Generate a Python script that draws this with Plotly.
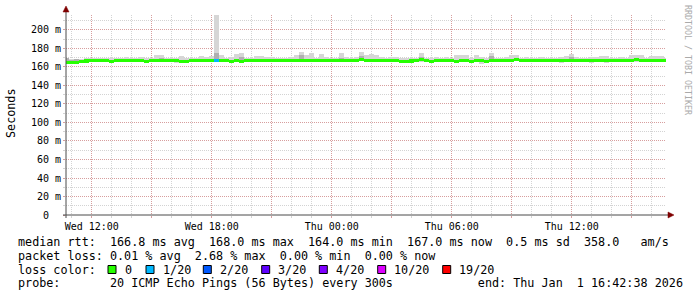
import plotly.graph_objects as go
import pandas as pd

# ---------------- data ----------------
times = pd.date_range("2025-12-31 10:45", periods=121, freq="15min")

median_ms = [
    164.8, 164.6, 164.9, 165.7, 166.5, 166.9, 166.8, 167.0, 166.9, 166.3,
    166.9, 167.0, 166.8, 166.9, 167.0, 166.8, 166.1, 166.9, 167.0, 166.8,
    166.9, 167.0, 166.8, 166.3, 166.4, 167.5, 166.8, 167.0, 166.9, 166.8,
    166.9, 166.8, 167.0, 166.1, 166.6, 166.4, 166.9, 167.0, 166.8, 166.9,
    167.5, 167.4, 166.9, 167.0, 166.8, 166.9, 167.0, 166.8, 166.9, 167.0,
    166.8, 166.9, 167.0, 166.9, 166.8, 167.0, 166.9, 166.8, 167.1, 167.6,
    166.9, 166.8, 167.0, 166.9, 166.8, 167.0, 166.9, 166.4, 166.0, 166.5,
    166.9, 167.6, 166.8, 166.2, 166.9, 167.0, 166.8, 166.9, 166.3, 166.9,
    167.0, 166.2, 166.8, 167.0, 166.4, 166.9, 167.0, 166.9, 166.8, 167.4,
    167.8, 167.3, 166.9, 166.8, 167.0, 166.9, 166.8, 167.0, 166.9, 166.8,
    167.0, 166.9, 166.8, 167.0, 166.9, 166.8, 167.0, 166.9, 166.8, 166.9,
    167.0, 166.9, 166.8, 167.0, 167.6, 166.9, 166.8, 167.5, 167.4, 166.9,
    167.0,
]

smoke_lo_ms = [
    163.8, 163.6, 163.9, 164.6, 165.5, 165.8, 165.5, 165.8, 165.6, 165.0,
    165.6, 165.8, 165.5, 165.7, 165.8, 165.5, 164.8, 165.6, 165.8, 165.5,
    165.6, 165.7, 164.8, 165.0, 165.1, 165.5, 165.4, 165.8, 165.6, 165.5,
    165.2, 165.5, 165.7, 164.0, 165.2, 164.8, 165.6, 165.7, 165.4, 165.6,
    165.7, 165.5, 165.6, 165.8, 165.5, 165.6, 165.7, 165.3, 165.5, 165.8,
    165.5, 165.6, 165.8, 165.6, 165.4, 165.7, 165.6, 165.5, 165.7, 166.0,
    165.6, 165.4, 165.7, 165.6, 165.5, 165.7, 165.6, 165.0, 164.8, 165.0,
    165.6, 165.8, 165.4, 164.9, 165.6, 165.7, 165.5, 165.6, 164.8, 165.5,
    165.7, 164.8, 165.5, 163.0, 165.0, 165.6, 165.7, 165.6, 165.5, 165.7,
    166.0, 165.8, 165.6, 165.5, 165.7, 165.6, 165.5, 165.7, 165.6, 164.0,
    165.7, 165.6, 165.5, 165.7, 165.6, 164.8, 164.9, 165.0, 164.8, 165.6,
    165.7, 165.6, 165.5, 165.7, 165.8, 165.6, 165.5, 165.7, 165.8, 165.6,
    165.7,
]

smoke_hi_ms = [
    168.8, 168.2, 168.0, 168.5, 169.5, 169.8, 170.0, 169.5, 169.8, 170.2,
    169.5, 170.0, 170.3, 169.5, 170.0, 170.5, 169.5, 170.2, 172.8, 173.2,
    169.8, 170.2, 170.0, 171.8, 170.0, 169.5, 170.2, 171.5, 171.2, 171.8,
    232.0, 173.0, 170.0, 170.5, 174.5, 174.8, 170.0, 169.8, 172.0, 172.2,
    171.0, 170.5, 170.0, 169.8, 170.2, 170.5, 173.0, 176.5, 173.2, 174.8,
    170.0, 174.0, 170.5, 169.8, 170.2, 174.8, 170.5, 170.0, 170.8, 176.5,
    172.5, 173.8, 172.8, 170.5, 170.0, 171.0, 170.8, 170.0, 169.5, 170.2,
    170.0, 174.8, 170.2, 170.0, 170.5, 169.8, 170.5, 170.0, 172.5, 173.0,
    172.8, 170.2, 173.0, 170.5, 170.0, 175.5, 170.2, 170.0, 170.5, 173.0,
    172.5, 170.0, 170.5, 169.8, 170.0, 170.5, 170.2, 170.0, 169.8, 170.5,
    171.5, 174.0, 170.5, 170.0, 170.2, 171.0, 170.5, 171.8, 171.5, 170.2,
    170.0, 170.5, 169.8, 172.5, 173.0, 172.8, 170.0, 171.5, 172.0, 171.8,
    169.5,
]

smoke_dark_ms = [
    169.3, 168.0, 168.2, 168.0, 168.2, 168.5, 168.3, 168.6, 168.5, 168.0,
    168.5, 168.6, 168.4, 168.5, 168.6, 168.4, 167.8, 168.5, 169.0, 169.2,
    168.5, 168.6, 168.4, 168.0, 168.1, 169.1, 168.4, 168.6, 168.5, 168.4,
    174.8, 169.0, 168.6, 167.8, 168.3, 171.0, 168.5, 168.6, 168.4, 168.5,
    169.1, 169.0, 168.5, 168.6, 168.4, 168.5, 168.6, 172.5, 168.5, 168.6,
    168.4, 168.5, 168.6, 168.5, 168.4, 169.5, 168.5, 168.4, 168.7, 172.0,
    168.5, 168.4, 168.6, 168.5, 168.4, 168.6, 168.5, 168.0, 167.6, 168.1,
    168.5, 171.0, 168.4, 167.8, 168.5, 168.6, 168.4, 168.5, 168.0, 168.5,
    168.6, 167.8, 168.4, 168.6, 168.0, 171.5, 168.6, 168.5, 168.4, 169.0,
    169.4, 168.9, 168.5, 168.4, 168.6, 168.5, 168.4, 168.6, 168.5, 168.4,
    168.6, 170.5, 168.4, 168.6, 168.5, 168.4, 168.6, 168.5, 168.4, 168.5,
    168.6, 168.5, 168.4, 168.6, 169.2, 168.5, 168.4, 169.1, 169.0, 168.5,
    168.6,
]

loss_count = [0] * 30 + [1] + [0] * 90

loss_levels = [0, 1, 2, 3, 4, 10, 19]
loss_labels = ["0", "1/20", "2/20", "3/20", "4/20", "10/20", "19/20"]
loss_colors = ["#26ff00", "#00b8ff", "#0059ff", "#5e00ff", "#7e00ff", "#dd00ff", "#ff0000"]

y_tick_vals = [0, 20, 40, 60, 80, 100, 120, 140, 160, 180, 200]
y_tick_text = ["0\u00a0\u00a0", "20 m", "40 m", "60 m", "80 m", "100 m",
               "120 m", "140 m", "160 m", "180 m", "200 m"]

x_tick_vals = ["2025-12-31 12:00", "2025-12-31 15:00", "2025-12-31 18:00",
               "2025-12-31 21:00", "2026-01-01 00:00", "2026-01-01 03:00",
               "2026-01-01 06:00", "2026-01-01 09:00", "2026-01-01 12:00",
               "2026-01-01 15:00"]
x_tick_text = ["Wed 12:00", "", "Wed 18:00", "", "Thu 00:00", "",
               "Thu 06:00", "", "Thu 12:00", ""]

legend_rows = [
    "median rtt:  166.8 ms avg  168.0 ms max  164.0 ms min  167.0 ms now  0.5 ms sd  358.0   am/s",
    "packet loss: 0.01 % avg  2.68 % max  0.00 % min  0.00 % now",
    "loss color:",
    "probe:       20 ICMP Echo Pings (56 Bytes) every 300s            end: Thu Jan  1 16:42:38 2026",
]

x_start = "2025-12-31 10:42:38"
x_end = "2026-01-01 16:42:38"
y_max = 216.2

# ---------------- layout helpers ----------------
W, H = 697, 297
L, R, T, B = 66, 31, 15, 82
PW, PH = W - L - R, H - T - B
MONO = "DejaVu Sans Mono"
BIN_MS = 15 * 60 * 1000


def px_x(p):
    return (p - L) / PW


def px_y(p):
    return (T + PH - p) / PH


def loss_color(n):
    c = loss_colors[0]
    for lv, col in zip(loss_levels, loss_colors):
        if n >= lv:
            c = col
    return c


fig = go.Figure()

# light smoke
fig.add_trace(go.Bar(
    x=times, base=smoke_lo_ms,
    y=[h - l for h, l in zip(smoke_hi_ms, smoke_lo_ms)],
    width=BIN_MS, marker=dict(color="#d6d6d6", line=dict(width=0)),
    hoverinfo="skip", showlegend=False))
# darker smoke near the median
fig.add_trace(go.Bar(
    x=times, base=median_ms,
    y=[d - m for d, m in zip(smoke_dark_ms, median_ms)],
    width=BIN_MS, marker=dict(color="#b0b0b0", line=dict(width=0)),
    hoverinfo="skip", showlegend=False))
# median coloured by loss
fig.add_trace(go.Bar(
    x=times, base=[m - 1.65 for m in median_ms], y=[3.3] * len(median_ms),
    width=BIN_MS,
    marker=dict(color=[loss_color(n) for n in loss_count], line=dict(width=0)),
    hoverinfo="skip", showlegend=False))

grid_minor = "rgba(150,150,150,0.42)"
grid_major = "rgba(222,80,80,0.40)"

fig.update_layout(
    width=W, height=H,
    margin=dict(l=L, r=R, t=T, b=B, pad=0),
    paper_bgcolor="white", plot_bgcolor="white",
    barmode="overlay", bargap=0,
    font=dict(family=MONO, size=10, color="black"),
    xaxis=dict(
        type="date", range=[x_start, x_end],
        tickmode="array", tickvals=x_tick_vals, ticktext=x_tick_text,
        showgrid=True, gridcolor=grid_major, griddash="1px,1px", gridwidth=1,
        ticks="outside", ticklen=2, tickcolor=grid_major,
        minor=dict(dtick=3600000, tick0="2025-12-31 00:00", showgrid=True,
                   gridcolor=grid_minor, griddash="1px,1px", ticks="outside",
                   ticklen=2, tickcolor=grid_minor),
        showline=False, zeroline=False,
        tickfont=dict(family=MONO, size=10, color="black"),
        fixedrange=True,
    ),
    yaxis=dict(
        range=[0, y_max],
        tickmode="array", tickvals=y_tick_vals, ticktext=y_tick_text,
        showgrid=True, gridcolor=grid_major, griddash="1px,1px", gridwidth=1,
        ticks="outside", ticklen=2, tickcolor=grid_major,
        minor=dict(dtick=10, tick0=0, showgrid=True, gridcolor=grid_minor,
                   griddash="1px,1px", ticks="outside", ticklen=2,
                   tickcolor=grid_minor),
        showline=False, zeroline=False,
        tickfont=dict(family=MONO, size=10, color="black"),
        fixedrange=True,
    ),
)

axis_col = "#4a4a4a"
arrow_col = "#7f0000"
shapes = [
    # y axis line (extends above plot, like rrdtool)
    dict(type="line", xref="paper", yref="paper",
         x0=px_x(L), x1=px_x(L), y0=px_y(T + PH + 3), y1=px_y(10),
         line=dict(color=axis_col, width=1)),
    # x axis line
    dict(type="line", xref="paper", yref="paper",
         x0=px_x(L - 3), x1=px_x(L + PW + 4), y0=0, y1=0,
         line=dict(color=axis_col, width=1)),
    # arrows
    dict(type="path", xref="paper", yref="paper",
         path=f"M {px_x(L-3)},{px_y(12)} L {px_x(L+3)},{px_y(12)} L {px_x(L)},{px_y(6)} Z",
         fillcolor=arrow_col, line=dict(color=arrow_col, width=0.5)),
    dict(type="path", xref="paper", yref="paper",
         path=f"M {px_x(L+PW+2)},{px_y(T+PH-3)} L {px_x(L+PW+2)},{px_y(T+PH+3)} L {px_x(L+PW+8)},{px_y(T+PH)} Z",
         fillcolor=arrow_col, line=dict(color=arrow_col, width=0.5)),
]

annotations = []
row_y = [241.7, 255.7, 269.5, 283.3]
for txt, yy in zip(legend_rows, row_y):
    annotations.append(dict(
        text=txt.replace(" ", "\u00a0"), xref="paper", yref="paper",
        x=px_x(16), y=px_y(yy), xanchor="left", yanchor="middle",
        showarrow=False, font=dict(family=MONO, size=11.75, color="black")))

sq_left = [108, 146, 203.3, 261.7, 319.3, 377.7, 442.7]
for lab, col, sx in zip(loss_labels, loss_colors, sq_left):
    shapes.append(dict(type="rect", xref="paper", yref="paper",
                       x0=px_x(sx), x1=px_x(sx + 8),
                       y0=px_y(row_y[2] + 4), y1=px_y(row_y[2] - 4),
                       fillcolor=col, line=dict(color="black", width=1)))
    annotations.append(dict(
        text=lab, xref="paper", yref="paper",
        x=px_x(sx + 14.5), y=px_y(row_y[2]), xanchor="left", yanchor="middle",
        showarrow=False, font=dict(family=MONO, size=11.75, color="black")))

annotations.append(dict(
    text="Seconds", xref="paper", yref="paper", x=px_x(11), y=px_y(113),
    textangle=-90, xanchor="center", yanchor="middle", showarrow=False,
    font=dict(family=MONO, size=11.75, color="black")))
annotations.append(dict(
    text="RRDTOOL\u00a0/\u00a0TOBI\u00a0OETIKER", xref="paper", yref="paper",
    x=px_x(688), y=px_y(60), textangle=90, xanchor="center", yanchor="middle",
    showarrow=False, font=dict(family=MONO, size=8.3, color="#aaaaaa")))

fig.update_layout(shapes=shapes, annotations=annotations)
fig.write_html("out.html")
